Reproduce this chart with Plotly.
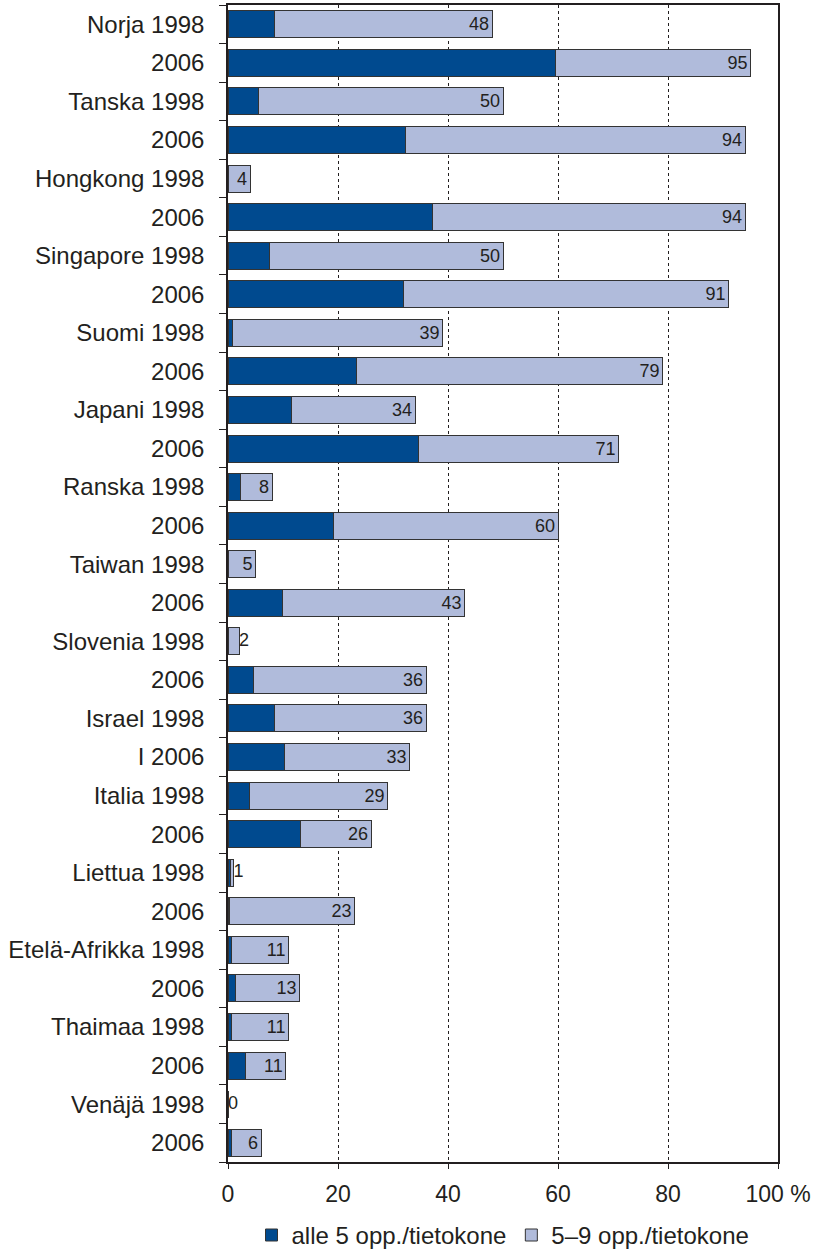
import plotly.graph_objects as go

labels = ["Norja 1998", "2006", "Tanska 1998", "2006", "Hongkong 1998", "2006",
          "Singapore 1998", "2006", "Suomi 1998", "2006", "Japani 1998", "2006",
          "Ranska 1998", "2006", "Taiwan 1998", "2006", "Slovenia 1998", "2006",
          "Israel 1998", "I 2006", "Italia 1998", "2006", "Liettua 1998", "2006",
          "Etelä-Afrikka 1998", "2006", "Thaimaa 1998", "2006", "Venäjä 1998", "2006"]

alle5 = [8.5, 59.6, 5.6, 32.3, 0, 37.2, 7.5, 31.9, 0.9, 23.4, 11.5, 34.7, 2.3, 19.1, 0,
         9.9, 0, 4.6, 8.5, 10.2, 3.9, 13.1, 0.5, 0.3, 0.6, 1.3, 0.6, 3.2, 0, 0.6]
opp5_9 = [39.5, 35.4, 44.4, 61.7, 4, 56.8, 42.5, 59.1, 38.1, 55.6, 22.5, 36.3, 5.7, 40.9, 5,
          33.1, 2, 31.4, 27.5, 22.8, 25.1, 12.9, 0.5, 22.7, 10.4, 11.7, 10.4, 7.3, 0, 5.4]
totals = [48, 95, 50, 94, 4, 94, 50, 91, 39, 79, 34, 71, 8, 60, 5, 43, 2, 36, 36, 33,
          29, 26, 1, 23, 11, 13, 11, 11, 0, 6]
x_ticks = [0, 20, 40, 60, 80, 100]
x_ticktext = ["0", "20", "40", "60", "80", "100 %"]

DARK = "#004a8f"
LIGHT = "#b0bbdb"
INK = "#231f20"
FONT = "Liberation Sans, Arial, sans-serif"

ypos = list(range(len(labels)))
ends = [a + b for a, b in zip(alle5, opp5_9)]
inside_text = [str(t) if t >= 4 else "" for t in totals]

fig = go.Figure()
fig.add_trace(go.Bar(y=ypos, x=alle5, orientation="h", name="alle 5 opp./tietokone",
                     marker=dict(color=DARK, line=dict(color="#333333", width=1))))
fig.add_trace(go.Bar(y=ypos, x=opp5_9, orientation="h", name="5–9 opp./tietokone",
                     marker=dict(color=LIGHT, line=dict(color="#333333", width=1)),
                     text=inside_text, textposition="inside", insidetextanchor="end",
                     constraintext="none", textangle=0,
                     insidetextfont=dict(size=18, color=INK, family=FONT)))

outside_idx = [i for i, t in enumerate(totals) if t < 4]
fig.add_trace(go.Scatter(x=[ends[i] for i in outside_idx], y=[ypos[i] for i in outside_idx],
                         text=[str(totals[i]) for i in outside_idx], mode="text",
                         textposition="middle right", showlegend=False, cliponaxis=False,
                         textfont=dict(size=18, color=INK, family=FONT), hoverinfo="skip"))

fig.update_layout(
    width=822, height=1250,
    margin=dict(l=228, r=44, t=5, b=88, autoexpand=False),
    barmode="stack", bargap=0.3,
    plot_bgcolor="white", paper_bgcolor="white",
    font=dict(family=FONT, color=INK, size=22),
    legend=dict(orientation="h", x=0.5, xanchor="center", y=-0.044, yanchor="top",
                font=dict(size=24, color=INK), traceorder="normal"),
    showlegend=True,
)
fig.update_xaxes(range=[0, 100], tickmode="array", tickvals=x_ticks, ticktext=x_ticktext,
                 ticks="outside", ticklen=5, tickcolor=INK, ticklabelstandoff=6,
                 showgrid=True, gridcolor=INK, griddash="dot", gridwidth=1,
                 showline=True, linecolor=INK, linewidth=1.5, mirror=True, automargin=False,
                 zeroline=False, tickfont=dict(size=23, color=INK))
fig.update_yaxes(range=[len(labels) - 0.5, -0.5], tickmode="array", tickvals=ypos,
                 ticktext=labels, ticks="", ticklabelstandoff=17, automargin=False,
                 minor=dict(tickmode="array", tickvals=[i - 0.5 for i in range(len(labels) + 1)],
                            ticks="outside", ticklen=7, tickcolor=INK, showgrid=False),
                 showgrid=False, zeroline=False,
                 showline=True, linecolor=INK, linewidth=1.5, mirror=True,
                 tickfont=dict(size=24, color=INK))

fig.write_html("out.html")
